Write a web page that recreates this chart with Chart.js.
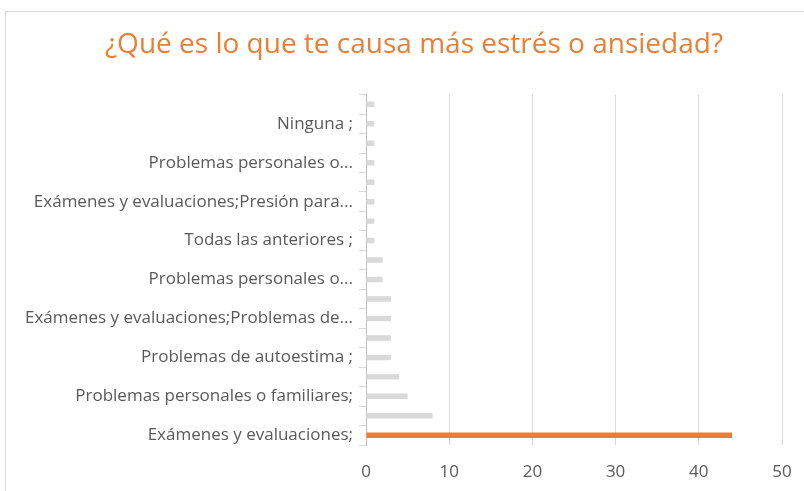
<!DOCTYPE html>
<html>
<head>
<meta charset="utf-8">
<script src="https://cdn.jsdelivr.net/npm/chart.js@4"></script>
<style>
  html, body { margin:0; padding:0; background:#fff; }
  #wrap { position:relative; width:804px; height:491px; overflow:hidden; }
  #frame { position:absolute; left:5px; top:11px; right:-10px; bottom:-10px;
           border-left:1px solid #d9d9d9; border-top:1px solid #d9d9d9; }
  canvas { position:absolute; left:0; top:0; }
</style>
</head>
<body>
<div id="wrap">
  <div id="frame"></div>
  <canvas id="chart" width="804" height="491"></canvas>
</div>
<script>
/* ¿Qué es lo que te causa más estrés o ansiedad? — horizontal bars, bottom first */

// categories, listed bottom -> top (hidden ones are unlabeled in the source)
var categories = [
  'Exámenes y evaluaciones;', '',
  'Problemas personales o familiares;', '',
  'Problemas de autoestima ;', '',
  'Exámenes y evaluaciones;Problemas de...', '',
  'Problemas personales o...', '',
  'Todas las anteriores ;', '',
  'Exámenes y evaluaciones;Presión para...', '',
  'Problemas personales o...', '',
  'Ninguna ;', ''
];
var counts = [44, 8, 5, 4, 3, 3, 3, 3, 2, 2, 1, 1, 1, 1, 1, 1, 1, 1];
var xTicks = [0, 10, 20, 30, 40, 50];
var chartTitle = '¿Qué es lo que te causa más estrés o ansiedad?';

var ORANGE = '#ED7D31';
var GREY_BAR = '#d9d9d9';
var GRID = '#d9d9d9';
var TEXT = '#595959';

var barColors = counts.map(function(v, i){ return i === 0 ? ORANGE : GREY_BAR; });

// the title sits a bit right of the canvas centre in the original
var shiftTitle = {
  id: 'shiftTitle',
  afterLayout: function(chart){
    var t = chart.titleBlock;
    if(!t) return;
    t.left += 23;
    t.right += 23;
  }
};

new Chart(document.getElementById('chart'), {
  type: 'bar',
  data: {
    labels: categories,
    datasets: [{
      data: counts,
      backgroundColor: barColors,
      borderWidth: 0,
      barPercentage: 0.28,
      categoryPercentage: 1
    }]
  },
  options: {
    indexAxis: 'y',
    responsive: false,
    animation: false,
    layout: { padding: { left: 0, right: 22, top: 0, bottom: 0 } },
    plugins: {
      legend: { display: false },
      tooltip: { enabled: false },
      title: {
        display: true,
        text: chartTitle,
        color: ORANGE,
        font: { family: 'Open Sans', size: 28, weight: 'normal' },
        padding: { top: 28, bottom: 33 }
      }
    },
    scales: {
      x: {
        min: xTicks[0],
        max: xTicks[xTicks.length - 1],
        afterBuildTicks: function(axis){
          axis.ticks = xTicks.map(function(v){ return { value: v }; });
        },
        afterFit: function(axis){
          axis.height = 46;
          // label padding would otherwise eat into the right margin
          axis.paddingLeft = 0;
          axis.paddingRight = 0;
        },
        grid: { color: GRID, drawTicks: false },
        border: { display: false },
        ticks: { color: TEXT, padding: 17, font: { family: 'Open Sans', size: 17 } }
      },
      y: {
        reverse: true,
        afterFit: function(axis){ axis.width = 366; },
        grid: { display: true, drawOnChartArea: false, drawTicks: true, tickLength: 7, color: GRID, offset: true },
        border: { display: true, color: '#bfbfbf' },
        ticks: {
          autoSkip: false,
          color: TEXT,
          padding: 6,
          font: { family: 'Open Sans', size: 17 }
        }
      }
    }
  },
  plugins: [shiftTitle]
});
</script>
</body>
</html>
